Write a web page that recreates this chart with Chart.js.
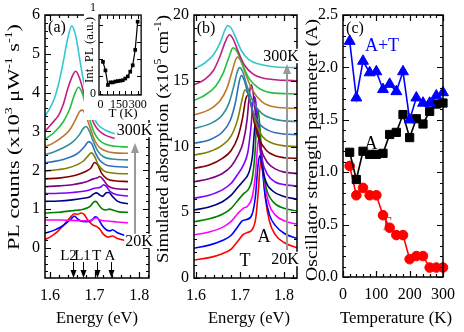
<!DOCTYPE html>
<html>
<head>
<meta charset="utf-8">
<script src="https://cdn.jsdelivr.net/npm/chart.js@4.4.1/dist/chart.umd.min.js"></script>
<style>
  body { margin: 0; background: #fff; }
  #wrap { position: relative; width: 464px; height: 332px; overflow: hidden; background: #fff; }
  canvas { position: absolute; top: 0; }
</style>
</head>
<body>
<div id="wrap">
  <canvas id="panelA" width="160" height="332" style="left:0"></canvas>
  <canvas id="panelB" width="160" height="332" style="left:150px"></canvas>
  <canvas id="panelC" width="164" height="332" style="left:300px"></canvas>
  <canvas id="inset" width="66" height="120" style="left:84px;background:#fff"></canvas>
</div>
<script>
// ---- data ----
const temps = [20, 40, 60, 80, 100, 120, 140, 160, 180, 200, 220, 240, 260, 280, 300];

// (a) PL spectra, [energy eV, counts], 20K .. 300K
const pl20 = [[1.589,0.22],[1.60,0.28],[1.615,0.40],[1.63,0.58],[1.645,0.78],[1.655,0.88],[1.662,0.87],[1.67,0.90],[1.677,0.86],[1.685,0.72],[1.695,0.60],[1.705,0.55],[1.712,0.48],[1.72,0.35],[1.73,0.28],[1.74,0.31],[1.75,0.25],[1.775,0.18]];
const pl40 = [[1.589,0.38],[1.61,0.46],[1.63,0.58],[1.645,0.72],[1.655,0.82],[1.662,0.75],[1.67,0.69],[1.68,0.68],[1.692,0.70],[1.702,0.80],[1.708,0.76],[1.716,0.60],[1.726,0.47],[1.735,0.44],[1.74,0.47],[1.75,0.40],[1.775,0.30]];
const pl60 = [[1.589,0.72],[1.62,0.72],[1.65,0.71],[1.675,0.70],[1.69,0.71],[1.698,0.75],[1.704,0.78],[1.71,0.73],[1.72,0.70],[1.735,0.69],[1.75,0.67],[1.775,0.65]];
const pl80 = [[1.589,0.90],[1.62,0.92],[1.65,0.96],[1.675,1.00],[1.69,1.07],[1.698,1.18],[1.703,1.20],[1.71,1.10],[1.718,1.00],[1.726,0.98],[1.733,1.00],[1.742,0.97],[1.755,0.93],[1.775,0.92]];
const pl100 = [[1.589,1.20],[1.62,1.21],[1.65,1.24],[1.675,1.28],[1.69,1.32],[1.699,1.40],[1.705,1.42],[1.712,1.36],[1.718,1.33],[1.726,1.42],[1.732,1.43],[1.74,1.33],[1.752,1.20],[1.775,1.14]];
const pl120 = [[1.589,1.40],[1.62,1.41],[1.65,1.43],[1.675,1.46],[1.69,1.50],[1.70,1.54],[1.708,1.55],[1.714,1.57],[1.72,1.63],[1.727,1.58],[1.735,1.45],[1.75,1.37],[1.775,1.34]];
const pl140 = [[1.589,1.58],[1.62,1.60],[1.65,1.63],[1.67,1.67],[1.685,1.72],[1.697,1.78],[1.705,1.80],[1.712,1.84],[1.72,1.75],[1.73,1.60],[1.745,1.53],[1.775,1.51]];
const pl160 = [[1.589,1.78],[1.62,1.80],[1.645,1.84],[1.665,1.90],[1.68,1.97],[1.692,2.06],[1.70,2.20],[1.707,2.14],[1.716,1.92],[1.728,1.78],[1.745,1.73],[1.775,1.71]];
const pl180 = [[1.589,1.98],[1.62,2.02],[1.64,2.06],[1.66,2.14],[1.675,2.24],[1.686,2.38],[1.693,2.45],[1.70,2.36],[1.708,2.15],[1.72,1.99],[1.74,1.93],[1.775,1.91]];
const pl200 = [[1.589,2.20],[1.61,2.23],[1.63,2.28],[1.65,2.36],[1.665,2.46],[1.678,2.62],[1.687,2.74],[1.694,2.68],[1.702,2.45],[1.712,2.25],[1.725,2.14],[1.745,2.10],[1.775,2.08]];
const pl220 = [[1.589,2.40],[1.61,2.48],[1.63,2.58],[1.65,2.72],[1.665,2.90],[1.675,3.08],[1.681,3.13],[1.688,3.02],[1.697,2.75],[1.707,2.50],[1.72,2.35],[1.74,2.29],[1.775,2.27]];
const pl240 = [[1.589,2.60],[1.61,2.72],[1.63,2.88],[1.645,3.05],[1.657,3.30],[1.667,3.52],[1.673,3.55],[1.68,3.42],[1.69,3.10],[1.70,2.78],[1.71,2.60],[1.725,2.50],[1.745,2.45],[1.775,2.44]];
const pl260 = [[1.589,2.80],[1.61,2.98],[1.63,3.25],[1.645,3.60],[1.655,3.95],[1.664,4.14],[1.672,4.00],[1.682,3.60],[1.692,3.20],[1.70,2.95],[1.71,2.78],[1.725,2.67],[1.745,2.62],[1.775,2.60]];
const pl280 = [[1.589,3.00],[1.60,3.15],[1.61,3.28],[1.62,3.43],[1.63,3.70],[1.64,4.10],[1.65,4.42],[1.658,4.55],[1.667,4.35],[1.677,3.95],[1.69,3.45],[1.70,3.18],[1.71,3.02],[1.725,2.90],[1.745,2.82]];
const pl300 = [[1.589,3.40],[1.60,3.60],[1.61,3.85],[1.62,4.25],[1.63,4.80],[1.64,5.40],[1.649,5.72],[1.658,5.45],[1.667,4.85],[1.677,4.20],[1.69,3.65],[1.70,3.32],[1.71,3.15],[1.725,3.03],[1.745,2.94]];
const plSeries = [pl20, pl40, pl60, pl80, pl100, pl120, pl140, pl160, pl180, pl200, pl220, pl240, pl260, pl280, pl300];

// inset: integrated PL vs T
const intPL = [0.37, 0.27, 0.10, 0.13, 0.13, 0.14, 0.145, 0.15, 0.155, 0.175, 0.20, 0.255, 0.33, 0.51, 0.84];

// (b) simulated absorption, [energy eV, x10^5 cm^-1], 20K .. 300K
const ab20 = [[1.5955,1.37],[1.63,1.55],[1.66,1.85],[1.68,2.2],[1.695,2.8],[1.707,3.3],[1.716,3.45],[1.728,3.7],[1.736,4.6],[1.742,6.8],[1.747,8.9],[1.752,8.2],[1.758,6.0],[1.767,4.3],[1.78,3.3],[1.80,2.7],[1.829,2.3]];
const ab40 = [[1.5955,2.26],[1.63,2.5],[1.66,2.85],[1.68,3.25],[1.695,3.9],[1.705,4.35],[1.715,4.45],[1.727,4.8],[1.735,6.2],[1.741,8.6],[1.745,9.3],[1.75,8.5],[1.757,6.3],[1.767,4.8],[1.78,4.0],[1.80,3.4],[1.829,3.0]];
const ab60 = [[1.5955,3.27],[1.63,3.5],[1.66,3.85],[1.68,4.3],[1.695,4.9],[1.707,5.3],[1.718,5.5],[1.728,6.2],[1.735,7.8],[1.74,10.0],[1.744,10.8],[1.749,9.6],[1.756,7.2],[1.766,5.6],[1.78,4.8],[1.80,4.35],[1.829,4.1]];
const ab80 = [[1.5955,4.28],[1.63,4.5],[1.66,4.85],[1.68,5.3],[1.695,5.9],[1.708,6.4],[1.72,6.8],[1.728,7.6],[1.734,9.5],[1.738,12.0],[1.741,12.8],[1.745,11.5],[1.751,8.6],[1.76,6.8],[1.775,5.8],[1.80,5.3],[1.829,5.1]];
const ab100 = [[1.5955,5.17],[1.63,5.4],[1.66,5.8],[1.68,6.3],[1.695,6.9],[1.708,7.4],[1.72,8.0],[1.728,9.2],[1.734,11.6],[1.738,12.3],[1.742,11.2],[1.749,8.8],[1.758,7.4],[1.775,6.6],[1.80,6.2],[1.829,6.0]];
const ab120 = [[1.5955,6.06],[1.63,6.3],[1.66,6.7],[1.68,7.2],[1.695,7.9],[1.708,8.6],[1.718,9.6],[1.725,11.5],[1.731,13.8],[1.735,13.6],[1.741,11.2],[1.75,9.0],[1.762,7.9],[1.78,7.3],[1.80,7.1],[1.829,7.0]];
const ab140 = [[1.5955,7.32],[1.63,7.55],[1.66,7.95],[1.68,8.5],[1.695,9.3],[1.707,10.3],[1.716,12.0],[1.722,14.2],[1.726,14.7],[1.731,13.8],[1.738,11.6],[1.748,9.8],[1.762,8.8],[1.78,8.3],[1.80,8.05],[1.829,7.95]];
const ab160 = [[1.5955,8.34],[1.63,8.6],[1.66,9.1],[1.68,9.7],[1.695,10.7],[1.706,12.2],[1.713,13.6],[1.718,13.9],[1.724,13.4],[1.732,11.9],[1.743,10.6],[1.76,9.7],[1.78,9.3],[1.80,9.15],[1.829,9.1]];
const ab180 = [[1.5955,9.35],[1.63,9.6],[1.66,10.1],[1.68,10.8],[1.695,12.1],[1.705,13.6],[1.711,14.3],[1.717,14.1],[1.725,13.2],[1.736,11.8],[1.75,10.8],[1.77,10.3],[1.80,10.05],[1.829,10.0]];
const ab200 = [[1.5955,10.24],[1.63,10.5],[1.66,11.1],[1.678,12.0],[1.69,13.4],[1.698,14.9],[1.703,15.4],[1.709,15.1],[1.718,14.0],[1.73,12.6],[1.745,11.7],[1.77,11.15],[1.80,10.95],[1.829,10.9]];
const ab220 = [[1.5955,11.38],[1.63,11.7],[1.66,12.4],[1.675,13.3],[1.686,14.6],[1.694,15.7],[1.699,16.0],[1.706,15.7],[1.716,14.6],[1.73,13.4],[1.75,12.5],[1.775,12.1],[1.80,11.95],[1.829,11.9]];
const ab240 = [[1.5955,12.4],[1.63,12.8],[1.655,13.5],[1.67,14.4],[1.682,15.7],[1.69,16.6],[1.695,16.8],[1.702,16.5],[1.713,15.5],[1.728,14.3],[1.75,13.4],[1.78,13.0],[1.829,12.9]];
const ab260 = [[1.5955,13.5],[1.62,13.9],[1.645,14.6],[1.662,15.6],[1.675,16.8],[1.684,17.5],[1.692,17.3],[1.705,16.3],[1.72,15.2],[1.74,14.5],[1.77,14.1],[1.829,14.0]];
const ab280 = [[1.5955,14.7],[1.62,15.1],[1.64,15.8],[1.655,16.9],[1.667,18.0],[1.676,18.5],[1.684,18.2],[1.695,17.3],[1.71,16.2],[1.73,15.5],[1.76,15.15],[1.829,15.0]];
const ab300 = [[1.5955,15.9],[1.62,16.35],[1.64,17.0],[1.655,17.9],[1.665,18.8],[1.672,19.2],[1.68,19.0],[1.69,18.3],[1.703,17.3],[1.72,16.6],[1.745,16.25],[1.78,16.05],[1.829,16.0]];
const absSeries = [ab20, ab40, ab60, ab80, ab100, ab120, ab140, ab160, ab180, ab200, ab220, ab240, ab260, ab280, ab300];

// (c) oscillator strength vs T
const oscAT = [2.25, 1.71, 2.06, 1.95, 1.96, 1.79, 1.84, 1.77, 1.96, 1.50, 1.71, 1.66, 1.66, 1.73, 1.76];
const oscA  = [1.19, 0.93, 1.20, 1.17, 1.17, 1.18, 1.36, 1.38, 1.55, 1.33, 1.51, 1.46, 1.58, 1.65, 1.66];
const oscT  = [1.06, 0.78, 0.85, 0.78, 0.78, 0.59, 0.47, 0.40, 0.40, 0.17, 0.20, 0.20, 0.09, 0.09, 0.09];

// peak markers in (a)
const markerLabels = ['L2', 'L1', 'T', 'A'];
const markerEnergies = [1.6526, 1.6737, 1.7052, 1.7366];

// tick labels
const energyTicks = [1.6, 1.7, 1.8];
const plTicks = [0, 1, 2, 3, 4, 5, 6];
const absTicks = [0, 5, 10, 15, 20];
const tempTicks = [0, 100, 200, 300];
const oscTicks = [0, 0.5, 1.0, 1.5, 2.0, 2.5];
const insetTempTicks = [0, 150, 300];
const insetPLTicks = [0, 1];

const curveColors = ['#ff0000', '#0000ff', '#ff00ff', '#008000', '#000080', '#8000ff', '#800080', '#800000',
                     '#808000', '#3070b8', '#2f8f9a', '#b87a2a', '#22c040', '#c02080', '#33c8d0'];

const SERIF = '"Liberation Serif", "Times New Roman", serif';

// ---- helpers ----
function makeAxis(min, max, ticks, fmt, fixed, horiz, size, pad) {
    return {
        type: 'linear', min: min, max: max,
        grid: { display: false, drawTicks: false },
        border: { display: false },
        ticks: {
            color: '#000', font: { family: SERIF, size: size || 16 },
            padding: pad, maxRotation: 0, autoSkip: false,
            callback: v => fmt(v)
        },
        afterBuildTicks: s => { s.ticks = ticks.map(v => ({ value: v })); },
        afterFit: s => { if (horiz) s.height = fixed; else s.width = fixed; }
    };
}

function framePlugin(cfg) {
    return {
        id: 'frame',
        afterDatasetsDraw(chart) {
            const { ctx, chartArea: a, scales } = chart;
            const sx = scales.x, sy = scales.y;
            ctx.save();
            ctx.strokeStyle = '#000';
            ctx.lineWidth = cfg.lw || 1.5;
            ctx.strokeRect(a.left, a.top, a.right - a.left, a.bottom - a.top);
            ctx.lineWidth = cfg.tlw || 1.2;
            ctx.beginPath();
            const run = (scale, step, len, horiz) => {
                const k0 = Math.ceil(scale.min / step - 1e-6);
                const k1 = Math.floor(scale.max / step + 1e-6);
                for (let k = k0; k <= k1; k++) {
                    const p = Math.round(scale.getPixelForValue(k * step)) + 0.5;
                    if (horiz) {
                        ctx.moveTo(p, a.bottom); ctx.lineTo(p, a.bottom - len);
                        ctx.moveTo(p, a.top); ctx.lineTo(p, a.top + len);
                    } else {
                        ctx.moveTo(a.left, p); ctx.lineTo(a.left + len, p);
                        ctx.moveTo(a.right, p); ctx.lineTo(a.right - len, p);
                    }
                }
            };
            run(sx, cfg.xMajor, cfg.majLen || 6, true);
            run(sx, cfg.xMinor, cfg.minLen || 3, true);
            run(sy, cfg.yMajor, cfg.majLen || 6, false);
            run(sy, cfg.yMinor, cfg.minLen || 3, false);
            ctx.stroke();
            ctx.restore();
        }
    };
}

function richText(ctx, parts, cx, cy, size, rot, len) {
    ctx.save();
    const fontFor = sup => 'normal 400 ' + (sup ? Math.round(size * 0.62) : size) + 'px ' + SERIF;
    const widths = parts.map(([t, sup]) => {
        ctx.font = fontFor(sup);
        return ctx.measureText(t).width;
    });
    const total = widths.reduce((s, w) => s + w, 0);
    ctx.translate(Math.round(cx), Math.round(cy));
    ctx.rotate(rot);
    if (len) ctx.scale(len / total, 1);
    ctx.fillStyle = '#000';
    ctx.textBaseline = 'alphabetic';
    ctx.textAlign = 'left';
    let x = -total / 2;
    const base = Math.round(size * 0.33);
    parts.forEach(([t, sup], i) => {
        ctx.font = fontFor(sup);
        ctx.fillText(t, x, sup ? base - Math.round(size * 0.42) : base);
        x += widths[i];
    });
    ctx.restore();
}

function text(ctx, str, cx, cy, size, color, boxed) {
    ctx.save();
    ctx.font = 'normal 400 ' + size + 'px ' + SERIF;
    ctx.textAlign = 'center';
    ctx.textBaseline = 'middle';
    if (boxed) {
        const w = ctx.measureText(str).width;
        ctx.fillStyle = '#fff';
        ctx.fillRect(cx - w / 2 - 1, cy - size * 0.45, w + 2, size * 0.9);
    }
    ctx.fillStyle = color || '#000';
    ctx.fillText(str, cx, cy + 1);
    ctx.restore();
}

function grayArrow(ctx, x, y0, y1) {
    ctx.save();
    ctx.strokeStyle = '#999'; ctx.fillStyle = '#999'; ctx.lineWidth = 2;
    ctx.beginPath(); ctx.moveTo(x, y0); ctx.lineTo(x, y1 + 8); ctx.stroke();
    ctx.beginPath(); ctx.moveTo(x, y1); ctx.lineTo(x - 4, y1 + 10); ctx.lineTo(x + 4, y1 + 10); ctx.closePath(); ctx.fill();
    ctx.restore();
}

function downArrow(ctx, x, y0, y1) {
    ctx.save();
    ctx.strokeStyle = '#000'; ctx.fillStyle = '#000'; ctx.lineWidth = 1;
    ctx.beginPath(); ctx.moveTo(x, y0); ctx.lineTo(x, y1 - 6); ctx.stroke();
    ctx.beginPath(); ctx.moveTo(x, y1); ctx.lineTo(x - 3, y1 - 8); ctx.lineTo(x + 3, y1 - 8); ctx.closePath(); ctx.fill();
    ctx.restore();
}

function spectra(series) {
    return series.map((pts, i) => ({
        data: pts.map(p => ({ x: p[0], y: p[1] })),
        borderColor: curveColors[i],
        borderWidth: 1.6,
        pointRadius: 0,
        fill: false,
        cubicInterpolationMode: 'monotone'
    })).reverse();
}

const baseOpts = {
    responsive: false, animation: false, devicePixelRatio: 1,
    plugins: { legend: { display: false }, tooltip: { enabled: false } }
};

// ---- panel (a) ----
new Chart(document.getElementById('panelA'), {
    type: 'line',
    data: { datasets: spectra(plSeries) },
    options: Object.assign({}, baseOpts, {
        layout: { padding: { left: 0, right: 11, top: 15, bottom: 0 } },
        scales: {
            x: makeAxis(1.589, 1.822, energyTicks, v => v.toFixed(1), 54, true, 16, 8),
            y: makeAxis(-0.773, 6, plTicks, v => String(v), 45, false, 16, 5)
        }
    }),
    plugins: [framePlugin({ xMajor: 0.1, xMinor: 0.02, yMajor: 1, yMinor: 0.2 }), {
        id: 'annotA',
        afterDraw(chart) {
            const ctx = chart.ctx, sx = chart.scales.x;
            richText(ctx, [['PL counts (x10', 0], ['3', 1], [' \u03bcW', 0], ['-1', 1], [' s', 0], ['-1', 1], [')', 0]],
                     14, 137, 16, -Math.PI / 2, 226);
            richText(ctx, [['Energy (eV)', 0]], 97, 318, 16, 0, 82);
            text(ctx, '(a)', 57, 27, 16);
            grayArrow(ctx, 135, 235, 143);
            text(ctx, '300K', 134.5, 130, 16, '#000', true);
            text(ctx, '20K', 139, 241, 16, '#000', true);
            const offs = [-5, -1, -1, -1.5];
            markerEnergies.forEach((e, i) => {
                const px = Math.round(sx.getPixelForValue(e)) + 0.5;
                downArrow(ctx, px, 262, 278);
                text(ctx, markerLabels[i], px + offs[i], 255, 15);
            });
        }
    }]
});

// ---- inset of (a) ----
new Chart(document.getElementById('inset'), {
    type: 'line',
    data: {
        datasets: [{
            data: temps.map((t, i) => ({ x: t, y: intPL[i] })),
            borderColor: '#000', borderWidth: 1.2,
            pointStyle: 'rect', pointRadius: 2.6, pointBackgroundColor: '#000', pointBorderWidth: 0,
            clip: false
        }]
    },
    options: Object.assign({}, baseOpts, {
        layout: { padding: { left: 0, right: 2, top: 15, bottom: 0 } },
        scales: {
            x: makeAxis(-12, 328, insetTempTicks, v => String(v), 25, true, 12, 3),
            y: makeAxis(-0.0175, 0.918, insetPLTicks, v => String(v), 15, false, 12, 3)
        }
    }),
    plugins: [framePlugin({ xMajor: 50, xMinor: 50, yMajor: 0.2, yMinor: 0.2, majLen: 4, minLen: 4, lw: 1.3, tlw: 1 }), {
        id: 'annotInset',
        afterDraw(chart) {
            const ctx = chart.ctx;
            richText(ctx, [['Int. PL (a.u.)', 0]], 5, 50, 12, -Math.PI / 2, 66);
            richText(ctx, [['T (K)', 0]], 39, 113, 13, 0);
        }
    }]
});

// ---- panel (b) ----
new Chart(document.getElementById('panelB'), {
    type: 'line',
    data: { datasets: spectra(absSeries) },
    options: Object.assign({}, baseOpts, {
        layout: { padding: { left: 0, right: 13, top: 15, bottom: 0 } },
        scales: {
            x: makeAxis(1.5955, 1.8295, energyTicks, v => v.toFixed(1), 54, true, 16, 8),
            y: makeAxis(0, 20, absTicks, v => String(v), 44, false, 16, 5)
        }
    }),
    plugins: [framePlugin({ xMajor: 0.1, xMinor: 0.02, yMajor: 5, yMinor: 1 }), {
        id: 'annotB',
        afterDraw(chart) {
            const ctx = chart.ctx;
            richText(ctx, [['Simulated absorption (x10', 0], ['5', 1], [' cm', 0], ['-1', 1], [')', 0]],
                     13, 139, 16, -Math.PI / 2, 248);
            richText(ctx, [['Energy (eV)', 0]], 99, 318, 16, 0, 82);
            text(ctx, '(b)', 56, 28, 16);
            grayArrow(ctx, 137, 250, 64);
            text(ctx, '300K', 131, 56, 16, '#000', true);
            text(ctx, '20K', 135, 259, 16, '#000', true);
            text(ctx, 'A', 114, 236, 18);
            text(ctx, 'T', 95, 260, 18);
        }
    }]
});

// ---- panel (c) ----
const markerSet = (vals, color, style, r) => ({
    data: temps.map((t, i) => ({ x: t, y: vals[i] })),
    borderColor: color, backgroundColor: color, borderWidth: 1.6,
    pointStyle: style, pointRadius: r, pointBackgroundColor: color, pointBorderColor: color, pointBorderWidth: 1,
    tension: 0, clip: false
});

new Chart(document.getElementById('panelC'), {
    type: 'line',
    data: {
        datasets: [
            markerSet(oscAT, '#0000ff', 'triangle', 6.3),
            markerSet(oscA, '#000000', 'rect', 5.8),
            markerSet(oscT, '#ff0000', 'circle', 4.8)
        ]
    },
    options: Object.assign({}, baseOpts, {
        layout: { padding: { left: 0, right: 21, top: 15, bottom: 0 } },
        scales: {
            x: makeAxis(0, 300, tempTicks, v => String(v), 55, true, 16, 8),
            y: makeAxis(0, 2.5, oscTicks, v => v.toFixed(1), 43, false, 16, 5)
        }
    }),
    plugins: [framePlugin({ xMajor: 100, xMinor: 20, yMajor: 0.5, yMinor: 0.1 }), {
        id: 'annotC',
        afterDraw(chart) {
            const ctx = chart.ctx;
            richText(ctx, [['Oscillator strength parameter (A)', 0]], 12, 150, 16, -Math.PI / 2, 262);
            richText(ctx, [['Temperature (K)', 0]], 96, 318, 16, 0, 112);
            text(ctx, '(c)', 55, 28, 16);
            text(ctx, 'A+T', 82, 45, 18, '#0000ff');
            text(ctx, 'A', 71, 143, 18, '#000');
            text(ctx, 'T', 86, 224, 18, '#ff0000');
        }
    }]
});
</script>
</body>
</html>
